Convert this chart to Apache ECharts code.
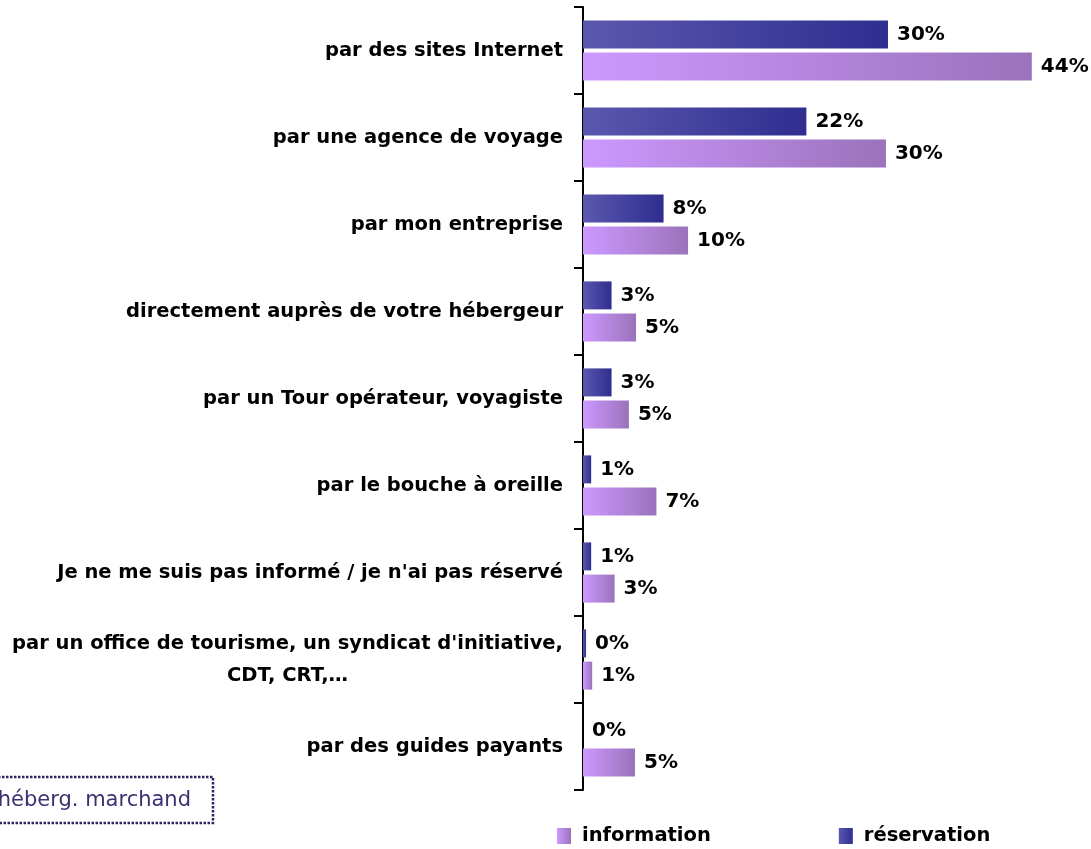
<!DOCTYPE html>
<html>
<head>
<meta charset="utf-8">
<script src="https://cdn.jsdelivr.net/npm/echarts@6/dist/echarts.min.js"></script>
<style>
  html, body { margin: 0; padding: 0; background: #ffffff; }
  #chart { width: 1091px; height: 849px; }
</style>
</head>
<body>
<div id="chart"></div>
<script>
// categories, top to bottom
const categories = [
  'par des sites Internet',
  'par une agence de voyage',
  'par mon entreprise',
  'directement auprès de votre hébergeur',
  'par un Tour opérateur, voyagiste',
  'par le bouche à oreille',
  "Je ne me suis pas informé / je n'ai pas réservé",
  "par un office de tourisme, un syndicat d'initiative,\nCDT, CRT,…",
  'par des guides payants'
];
// values in %
const reservation = [29.9, 21.9, 7.9, 2.8, 2.8, 0.8, 0.8, 0.3, 0];
const information = [44.0, 29.7, 10.3, 5.2, 4.5, 7.2, 3.1, 0.9, 5.1];
const legendNames = ['information', 'réservation'];
const noteText = 'héberg. marchand';

const FONT = '"DejaVu Sans", sans-serif';

const chart = echarts.init(document.getElementById('chart'));

const hGrad = (from, to) => ({
  type: 'linear', x: 0, y: 0, x2: 1, y2: 0,
  colorStops: [{ offset: 0, color: from }, { offset: 1, color: to }]
});

const valueLabel = {
  show: true,
  position: 'right',
  distance: 9,
  color: '#000000',
  fontFamily: FONT,
  fontWeight: 'bold',
  fontSize: 20,
  formatter: (p) => Math.round(p.value) + '%'
};

const option = {
  backgroundColor: '#ffffff',
  animation: false,
  grid: { left: 583, top: 7, width: 510, height: 783, outerBoundsMode: 'none', containLabel: false },
  xAxis: {
    type: 'value',
    min: 0,
    max: 50,
    show: false
  },
  yAxis: {
    type: 'category',
    data: categories,
    inverse: true,
    axisLine: { show: true, lineStyle: { color: '#000000', width: 2 } },
    axisTick: { show: true, length: 9, lineStyle: { color: '#000000', width: 2 } },
    axisLabel: {
      margin: 20,
      formatter: (v) => v.split('\n').map((l) => '{c|' + l + '}').join('\n'),
      rich: {
        c: {
          align: 'center',
          color: '#000000',
          fontFamily: FONT,
          fontWeight: 'bold',
          fontSize: 19.5,
          lineHeight: 32
        }
      }
    }
  },
  legend: {
    data: legendNames,
    left: 557,
    top: 826,
    padding: 0,
    itemWidth: 14,
    itemHeight: 16,
    itemGap: 128,
    icon: 'rect',
    textStyle: {
      color: '#000000',
      fontFamily: FONT,
      fontWeight: 'bold',
      fontSize: 19.5,
      padding: [0, 0, 0, 6]
    }
  },
  graphic: [
    {
      type: 'rect',
      shape: { x: -10, y: 777, width: 223, height: 46 },
      style: { fill: 'none', stroke: '#2b2766', lineWidth: 2.5, lineDash: [2.5, 1.5] }
    },
    {
      type: 'text',
      x: 191,
      y: 801,
      style: {
        text: noteText,
        align: 'right',
        verticalAlign: 'middle',
        fill: '#3a3272',
        font: '21px ' + FONT
      }
    }
  ],
  series: [
    {
      name: 'réservation',
      type: 'bar',
      data: reservation,
      barWidth: 28,
      barGap: '15%',
      itemStyle: { color: hGrad('#5a58ae', '#2f2e90') },
      label: valueLabel
    },
    {
      name: 'information',
      type: 'bar',
      data: information,
      barWidth: 28,
      itemStyle: { color: hGrad('#cc99ff', '#9b72bb') },
      label: valueLabel
    }
  ]
};

chart.setOption(option);
</script>
</body>
</html>
